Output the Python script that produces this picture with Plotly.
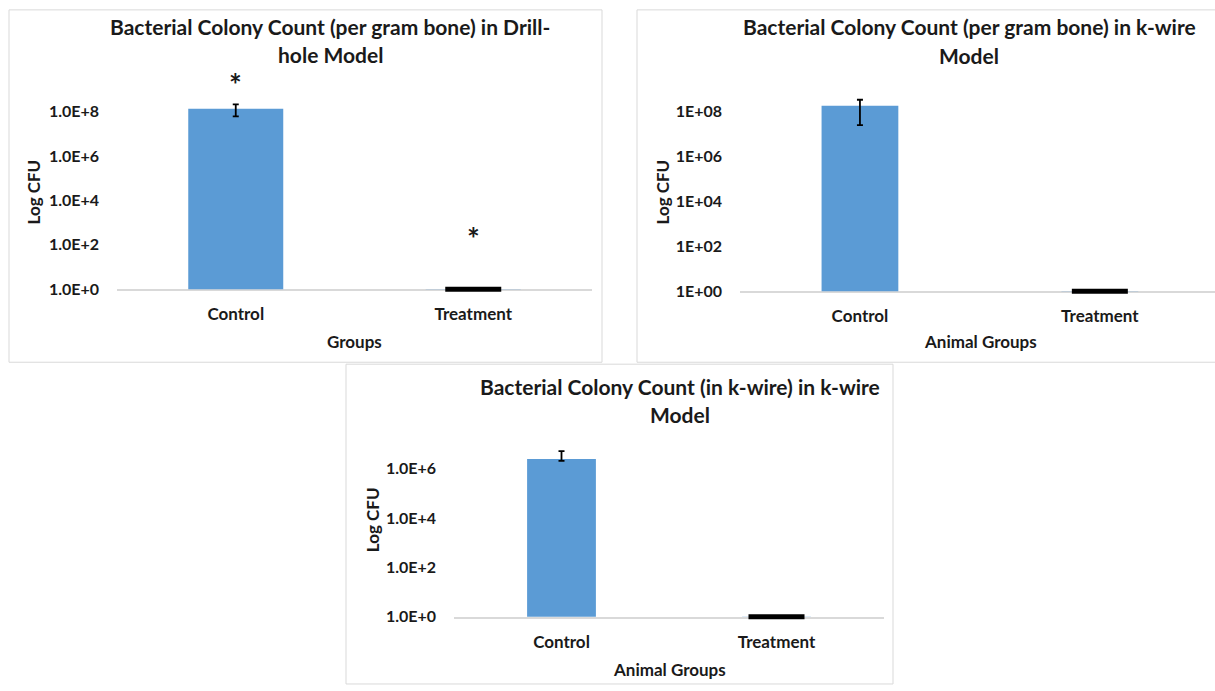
import plotly.graph_objects as go

# ---- data -------------------------------------------------------------
groups = ["Control", "Treatment"]

drill_cfu = [1.35e8, 1]          # per gram bone, drill-hole model
drill_err = [0.75e8, 0]

kwire_bone_cfu = [1.8e8, 1]      # per gram bone, k-wire model
kwire_bone_err = [1.55e8, 0]

kwire_wire_cfu = [2.5e6, 1]      # on the k-wire itself
kwire_wire_err_plus = [2.7e6, 0]
kwire_wire_err_minus = [0.4e6, 0]

ticks_long = ["1.0E+0", "1.0E+2", "1.0E+4", "1.0E+6", "1.0E+8"]
ticks_short = ["1E+00", "1E+02", "1E+04", "1E+06", "1E+08"]
ticks_wire = ["1.0E+0", "1.0E+2", "1.0E+4", "1.0E+6"]

# ---- styling ----------------------------------------------------------
W, H = 1215, 691
FONT = "Lato"
BLUE = "#5b9bd5"
FRAME = "#d9d9d9"
TXT = "#1a1a1a"


def px(x):
    return x / W


def py(y):
    return 1 - y / H


fig = go.Figure()


def add_panel(idx, values, err_plus, err_minus, bar_w):
    xa = "x" if idx == 1 else f"x{idx}"
    ya = "y" if idx == 1 else f"y{idx}"
    fig.add_trace(go.Bar(
        x=groups, y=values, xaxis=xa, yaxis=ya, width=bar_w,
        marker=dict(color=BLUE, line=dict(width=0)),
        error_y=dict(type="data", array=err_plus, arrayminus=err_minus,
                     symmetric=False, color="black", thickness=1.8, width=3),
        showlegend=False,
    ))
    # treatment group sits at the floor: drawn as a thick black dash
    fig.add_trace(go.Scatter(
        x=[groups[1]], y=[values[1]], xaxis=xa, yaxis=ya, mode="markers",
        marker=dict(symbol="line-ew", size=40,
                    line=dict(color="black", width=5)),
        cliponaxis=False, showlegend=False,
    ))


add_panel(1, drill_cfu, drill_err, drill_err, 0.40)
add_panel(2, kwire_bone_cfu, kwire_bone_err, kwire_bone_err, 0.32)
add_panel(3, kwire_wire_cfu, kwire_wire_err_plus, kwire_wire_err_minus, 0.32)

xtick_font = dict(family=FONT, size=17, color=TXT, weight="bold")
ytick_font = dict(family=FONT, size=16, color=TXT, weight="bold")


def xaxis_cfg(x0, x1, rng=None):
    d = dict(domain=[px(x0), px(x1)], showline=True, linecolor=FRAME,
             linewidth=1.5, ticks="", showgrid=False, zeroline=False,
             tickfont=xtick_font, ticklabelstandoff=9, fixedrange=True,
             layer="below traces")
    if rng is not None:
        d["range"] = rng
    return d


def yaxis_cfg(y_bottom, y_top, top_log, labels, anchor):
    vals = [10 ** (2 * i) for i in range(len(labels))]
    return dict(type="log", domain=[py(y_bottom), py(y_top)],
                range=[0, top_log], tickvals=vals, ticktext=labels,
                showline=False, showgrid=False, zeroline=False, ticks="",
                tickfont=ytick_font, ticklabelstandoff=17, anchor=anchor)


fig.update_layout(
    width=W, height=H, margin=dict(l=0, r=0, t=0, b=0),
    paper_bgcolor="white", plot_bgcolor="white",
    xaxis=dict(**xaxis_cfg(117, 592), anchor="y"),
    yaxis=yaxis_cfg(293, 75, (293 - 75) / 22.5, ticks_long, "x"),
    xaxis2=dict(**xaxis_cfg(740, 1215, [-0.5, 1.48]), anchor="y2"),
    yaxis2=yaxis_cfg(295, 75, (295 - 75) / 22.75, ticks_short, "x2"),
    xaxis3=dict(**xaxis_cfg(454, 884), anchor="y3"),
    yaxis3=yaxis_cfg(625, 440, (625 - 440) / 25, ticks_wire, "x3"),
)

# panel frames
for x0, y0, x1, y1 in [(9, 10, 602, 367), (637, 10, 1217, 367),
                       (346, 369, 893, 693)]:
    fig.add_shape(type="rect", xref="paper", yref="paper",
                  x0=px(x0), x1=px(x1), y0=py(y0), y1=py(y1),
                  line=dict(color=FRAME, width=1), fillcolor="rgba(0,0,0,0)",
                  layer="below")


def text(x, y, s, size, angle=0):
    fig.add_annotation(x=px(x), y=py(y), xref="paper", yref="paper",
                       text=s, showarrow=False, textangle=angle,
                       xanchor="center", yanchor="middle",
                       font=dict(family=FONT, size=size, color=TXT,
                                 weight="bold"))


# titles
TS = 21
text(330, 27, "Bacterial Colony Count (per gram bone) in Drill-", TS)
text(330, 55, "hole Model", TS)
text(969, 27, "Bacterial Colony Count (per gram bone) in k-wire", TS)
text(969, 56, "Model", TS)
text(680, 392, "Bacterial Colony Count (in k-wire) in k-wire", TS)
text(680, 420, "Model", TS)

# axis titles
AS = 17
text(33, 195, "Log CFU", AS, -90)
text(662, 195, "Log CFU", AS, -90)
text(372, 527, "Log CFU", AS, -90)
text(354, 346, "Groups", AS)
text(980, 346, "Animal Groups", AS)
text(669, 678, "Animal Groups", AS)

# significance marks
for xa, ya, g, ylog in [("x", "y", groups[0], 9.24), ("x", "y", groups[1], 2.31)]:
    fig.add_annotation(x=g, y=ylog, xref=xa, yref=ya, text="*",
                       showarrow=False,
                       font=dict(family=FONT, size=30, color=TXT,
                                 weight="bold"))

fig.write_html("out.html")
